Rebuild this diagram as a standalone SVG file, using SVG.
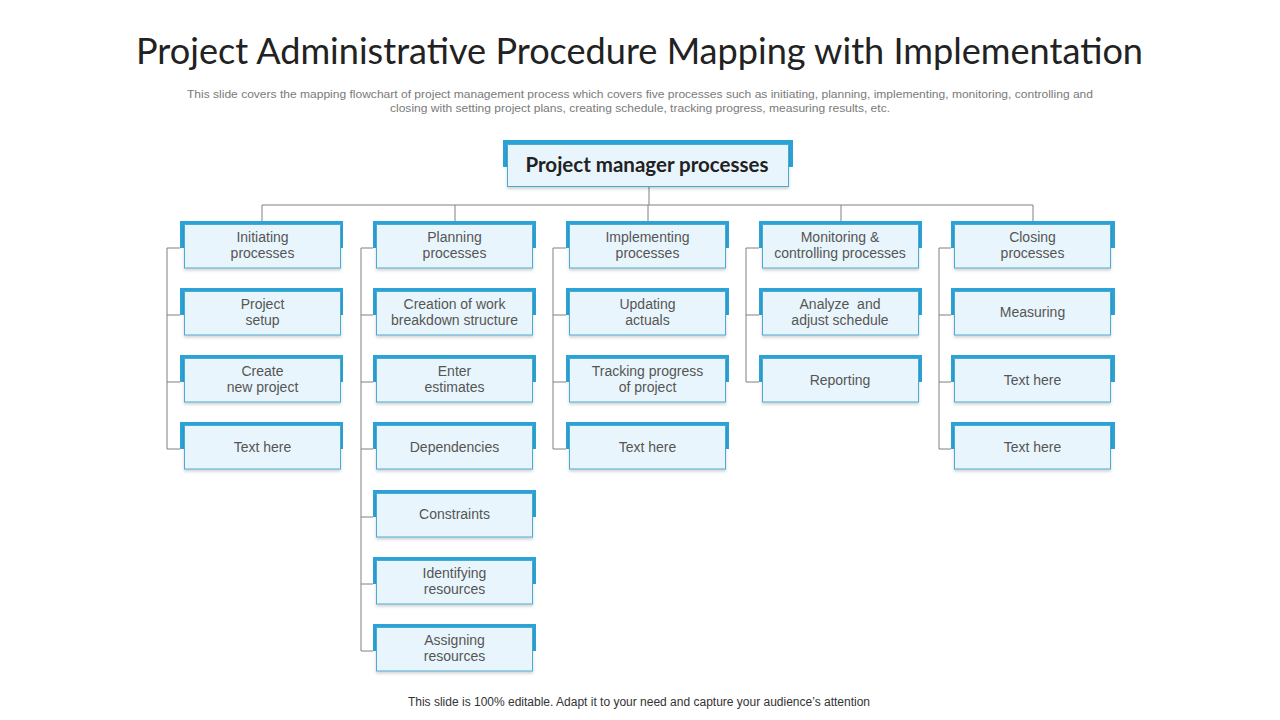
<svg xmlns="http://www.w3.org/2000/svg" width="1280" height="720" viewBox="0 0 1280 720">
<style>
.bg{fill:#ffffff}
.title{font-family:"Lato","Liberation Sans",sans-serif;font-size:36px;fill:#222;text-anchor:middle}
.sub{font-family:"Liberation Sans",Arial,sans-serif;font-size:11px;fill:#7a7a7a;text-anchor:middle}
.foot{font-family:"Liberation Sans",Arial,sans-serif;font-size:12px;fill:#333;text-anchor:middle}
.tab{fill:#2ba3d6}
.box{fill:#e9f5fc;stroke:#4caad2;stroke-width:1;filter:url(#sh)}
.t{font-family:"Liberation Sans",Arial,sans-serif;font-size:14px;fill:#555;text-anchor:middle}
.tt{font-family:"Lato","Liberation Sans",sans-serif;font-size:20.5px;font-weight:bold;fill:#222;text-anchor:middle}
.ln{stroke:#808080;stroke-width:1;fill:none}
</style>
<defs>
<filter id="sh" x="-10%" y="-20%" width="120%" height="150%">
<feDropShadow dx="0" dy="2" stdDeviation="1.5" flood-color="#000" flood-opacity="0.18"/>
</filter>
</defs>
<rect class="bg" width="1280" height="720"/>
<text class="title" x="639.5" y="64" textLength="1007" lengthAdjust="spacingAndGlyphs">Project Administrative Procedure Mapping with Implementation</text>
<text class="sub" x="640" y="98" textLength="906" lengthAdjust="spacingAndGlyphs">This slide covers the mapping flowchart of project management process which covers five processes such as initiating, planning, implementing, monitoring, controlling and</text>
<text class="sub" x="640" y="112" textLength="500" lengthAdjust="spacingAndGlyphs">closing with setting project plans, creating schedule, tracking progress, measuring results, etc.</text>

<g id="connectors">
<path class="ln" d="M649,187V205M262,205H1033M262,205V221M455,205V221M648,205V221M841,205V221M1033,205V221"/>
<path class="ln" d="M180,248H167V449H180M167,315H180M167,382H180"/>
<path class="ln" d="M373,248H361V651H373M361,315H373M361,382H373M361,449H373M361,517H373M361,584H373"/>
<path class="ln" d="M566,248H553V449H566M553,315H566M553,382H566"/>
<path class="ln" d="M759,248H746V382H759M746,315H759"/>
<path class="ln" d="M951,248H939V449H951M939,315H951M939,382H951"/>
</g>

<g id="root">
<rect class="tab" x="503" y="140" width="290" height="27"/>
<rect class="box" x="507.5" y="144.5" width="281" height="42"/>
<text class="tt" x="647" y="172">Project manager processes</text>
</g>

<g id="c1r1"><rect class="tab" x="180" y="221" width="163" height="27"/><rect class="box" x="184.5" y="224.5" width="156" height="43.5"/><text class="t" x="262.5" y="242">Initiating</text><text class="t" x="262.5" y="258">processes</text></g>
<g id="c1r2"><rect class="tab" x="180" y="288" width="163" height="27"/><rect class="box" x="184.5" y="291.5" width="156" height="43.5"/><text class="t" x="262.5" y="309">Project</text><text class="t" x="262.5" y="325">setup</text></g>
<g id="c1r3"><rect class="tab" x="180" y="355" width="163" height="27"/><rect class="box" x="184.5" y="358.5" width="156" height="43.5"/><text class="t" x="262.5" y="376">Create</text><text class="t" x="262.5" y="392">new project</text></g>
<g id="c1r4"><rect class="tab" x="180" y="422" width="163" height="27"/><rect class="box" x="184.5" y="425.5" width="156" height="43.5"/><text class="t" x="262.5" y="452">Text here</text></g>

<g id="c2r1"><rect class="tab" x="373" y="221" width="163" height="27"/><rect class="box" x="376.5" y="224.5" width="156" height="43.5"/><text class="t" x="454.5" y="242">Planning</text><text class="t" x="454.5" y="258">processes</text></g>
<g id="c2r2"><rect class="tab" x="373" y="288" width="163" height="27"/><rect class="box" x="376.5" y="291.5" width="156" height="43.5"/><text class="t" x="454.5" y="309">Creation of work</text><text class="t" x="454.5" y="325">breakdown structure</text></g>
<g id="c2r3"><rect class="tab" x="373" y="355" width="163" height="27"/><rect class="box" x="376.5" y="358.5" width="156" height="43.5"/><text class="t" x="454.5" y="376">Enter</text><text class="t" x="454.5" y="392">estimates</text></g>
<g id="c2r4"><rect class="tab" x="373" y="422" width="163" height="27"/><rect class="box" x="376.5" y="425.5" width="156" height="43.5"/><text class="t" x="454.5" y="452">Dependencies</text></g>
<g id="c2r5"><rect class="tab" x="373" y="490" width="163" height="27"/><rect class="box" x="376.5" y="493.5" width="156" height="43.5"/><text class="t" x="454.5" y="519">Constraints</text></g>
<g id="c2r6"><rect class="tab" x="373" y="557" width="163" height="27"/><rect class="box" x="376.5" y="560.5" width="156" height="43.5"/><text class="t" x="454.5" y="578">Identifying</text><text class="t" x="454.5" y="594">resources</text></g>
<g id="c2r7"><rect class="tab" x="373" y="624" width="163" height="27"/><rect class="box" x="376.5" y="627.5" width="156" height="43.5"/><text class="t" x="454.5" y="645">Assigning</text><text class="t" x="454.5" y="661">resources</text></g>

<g id="c3r1"><rect class="tab" x="566" y="221" width="163" height="27"/><rect class="box" x="569.5" y="224.5" width="156" height="43.5"/><text class="t" x="647.5" y="242">Implementing</text><text class="t" x="647.5" y="258">processes</text></g>
<g id="c3r2"><rect class="tab" x="566" y="288" width="163" height="27"/><rect class="box" x="569.5" y="291.5" width="156" height="43.5"/><text class="t" x="647.5" y="309">Updating</text><text class="t" x="647.5" y="325">actuals</text></g>
<g id="c3r3"><rect class="tab" x="566" y="355" width="163" height="27"/><rect class="box" x="569.5" y="358.5" width="156" height="43.5"/><text class="t" x="647.5" y="376">Tracking progress</text><text class="t" x="647.5" y="392">of project</text></g>
<g id="c3r4"><rect class="tab" x="566" y="422" width="163" height="27"/><rect class="box" x="569.5" y="425.5" width="156" height="43.5"/><text class="t" x="647.5" y="452">Text here</text></g>

<g id="c4r1"><rect class="tab" x="759" y="221" width="163" height="27"/><rect class="box" x="762.5" y="224.5" width="156" height="43.5"/><text class="t" x="840" y="242">Monitoring &amp;</text><text class="t" x="840" y="258">controlling processes</text></g>
<g id="c4r2"><rect class="tab" x="759" y="288" width="163" height="27"/><rect class="box" x="762.5" y="291.5" width="156" height="43.5"/><text class="t" x="840" y="309" xml:space="preserve">Analyze  and</text><text class="t" x="840" y="325">adjust schedule</text></g>
<g id="c4r3"><rect class="tab" x="759" y="355" width="163" height="27"/><rect class="box" x="762.5" y="358.5" width="156" height="43.5"/><text class="t" x="840" y="385">Reporting</text></g>

<g id="c5r1"><rect class="tab" x="951" y="221" width="164" height="27"/><rect class="box" x="954.5" y="224.5" width="156" height="43.5"/><text class="t" x="1032.5" y="242">Closing</text><text class="t" x="1032.5" y="258">processes</text></g>
<g id="c5r2"><rect class="tab" x="951" y="288" width="164" height="27"/><rect class="box" x="954.5" y="291.5" width="156" height="43.5"/><text class="t" x="1032.5" y="317">Measuring</text></g>
<g id="c5r3"><rect class="tab" x="951" y="355" width="164" height="27"/><rect class="box" x="954.5" y="358.5" width="156" height="43.5"/><text class="t" x="1032.5" y="385">Text here</text></g>
<g id="c5r4"><rect class="tab" x="951" y="422" width="164" height="27"/><rect class="box" x="954.5" y="425.5" width="156" height="43.5"/><text class="t" x="1032.5" y="452">Text here</text></g>

<text class="foot" x="639" y="706">This slide is 100% editable. Adapt it to your need and capture your audience’s attention</text>
</svg>
